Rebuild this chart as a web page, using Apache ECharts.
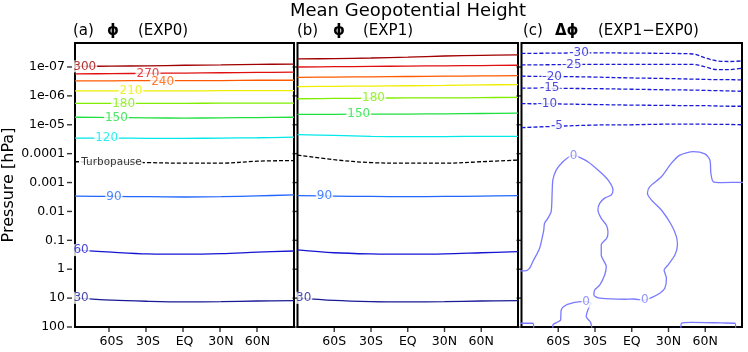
<!DOCTYPE html>
<html>
<head>
<meta charset="utf-8">
<title>Mean Geopotential Height</title>
<script src="https://cdn.jsdelivr.net/npm/echarts@6.0.0/dist/echarts.min.js"></script>
<style>
  html, body { margin: 0; padding: 0; background: #fff; }
  #chart { width: 748px; height: 352px; }
</style>
</head>
<body>
<div id="chart"></div>
<script>
// latitude ticks
var latTicks = [-60, -30, 0, 30, 60];
var latLabels = ['60S', '30S', 'EQ', '30N', '60N'];
// pressure ticks, as log10(hPa)
var presTicks = [-7, -6, -5, -4, -3, -2, -1, 0, 1, 2];
var presLabels = ['1e-07', '1e-06', '1e-05', '0.0001', '0.001', '0.01', '0.1', '1', '10', '100'];

// phi contour levels (top to bottom), turbopause sits between 120 and 90
var phiLevels = ['300', '270', '240', '210', '180', '150', '120', 'Turbopause', '90', '60', '30'];
var phiColors = ['#a00000', '#e01010', '#ff5a00', '#eeee00', '#80ee00', '#20e040', '#00e8e8', '#000000', '#2266ff', '#1414d2', '#1a1a96'];
var phiLats = [-90, -60, -30, 0, 30, 60, 90];
// log10 pressure of each contour at phiLats, EXP0
var phiExp0 = [
    [-7.02, -7.03, -7.04, -7.06, -7.07, -7.09, -7.10],
    [-6.76, -6.77, -6.78, -6.79, -6.80, -6.81, -6.82],
    [-6.52, -6.52, -6.53, -6.53, -6.53, -6.54, -6.54],
    [-6.17, -6.17, -6.17, -6.17, -6.18, -6.18, -6.18],
    [-5.74, -5.74, -5.74, -5.74, -5.75, -5.75, -5.75],
    [-5.26, -5.25, -5.24, -5.23, -5.24, -5.25, -5.26],
    [-4.54, -4.54, -4.53, -4.53, -4.54, -4.55, -4.57],
    [-3.72, -3.71, -3.69, -3.67, -3.67, -3.74, -3.76],
    [-2.53, -2.52, -2.51, -2.50, -2.51, -2.54, -2.57],
    [-0.67, -0.59, -0.53, -0.52, -0.54, -0.59, -0.63],
    [0.99, 1.07, 1.11, 1.13, 1.12, 1.10, 1.09]
];
// EXP1
var phiExp1 = [
    [-7.28, -7.29, -7.31, -7.34, -7.38, -7.40, -7.42],
    [-7.00, -7.01, -7.02, -7.03, -7.04, -7.05, -7.06],
    [-6.64, -6.65, -6.66, -6.67, -6.68, -6.69, -6.70],
    [-6.32, -6.33, -6.34, -6.35, -6.36, -6.38, -6.39],
    [-5.90, -5.91, -5.92, -5.93, -5.93, -5.94, -5.95],
    [-5.36, -5.36, -5.37, -5.37, -5.38, -5.39, -5.40],
    [-4.66, -4.63, -4.60, -4.59, -4.59, -4.60, -4.60],
    [-3.95, -3.79, -3.69, -3.67, -3.67, -3.72, -3.78],
    [-2.545, -2.53, -2.52, -2.51, -2.52, -2.53, -2.545],
    [-0.67, -0.57, -0.53, -0.52, -0.53, -0.57, -0.61],
    [0.99, 1.08, 1.12, 1.13, 1.12, 1.10, 1.09]
];

// difference EXP1-EXP0, negative contours (dashed)
var diffLevels = ['-30', '-25', '-20', '-15', '-10', '-5'];
var diffLats = [-90, -60, -30, 0, 30, 50, 60, 70, 80, 90];
var diffNeg = [
    [-7.47, -7.48, -7.49, -7.48, -7.47, -7.45, -7.31, -7.21, -7.19, -7.21],
    [-7.07, -7.08, -7.09, -7.09, -7.09, -7.09, -7.00, -6.91, -6.91, -6.96],
    [-6.68, -6.67, -6.65, -6.62, -6.60, -6.58, -6.57, -6.56, -6.56, -6.55],
    [-6.27, -6.26, -6.25, -6.23, -6.21, -6.20, -6.19, -6.18, -6.17, -6.16],
    [-5.73, -5.72, -5.70, -5.68, -5.67, -5.66, -5.66, -5.65, -5.64, -5.64],
    [-4.90, -4.95, -4.99, -5.00, -5.02, -5.02, -5.02, -5.01, -5.01, -5.00]
];
// zero contour pieces [lat, log10p]
var zeroMain = [
    [-91, 0.06], [-87.1, 0.06], [-83.5, -0.03], [-80.8, -0.26], [-75.3, -0.72], [-72.6, -1.19],
    [-71.8, -1.36], [-71.2, -1.59], [-68.5, -1.76], [-65.8, -1.99], [-65.0, -2.63], [-64.4, -3.09],
    [-61.7, -3.43], [-56.2, -3.72], [-50.7, -3.90], [-47.5, -3.94], [-43.9, -3.90], [-35.8, -3.72],
    [-26.2, -3.38], [-19.4, -3.09], [-15.3, -2.74], [-16.7, -2.57], [-22.1, -2.46], [-26.2, -2.28],
    [-27.6, -2.05], [-24.9, -1.76], [-20.8, -1.53], [-19.4, -1.30], [-20.3, -1.08], [-24.9, -0.84],
    [-24.9, -0.49], [-20.8, -0.09], [-22.1, 0.20], [-26.2, 0.55], [-30.3, 0.72], [-30.9, 0.89],
    [-27.6, 0.99], [-16.7, 1.03], [-5.7, 1.04], [1.1, 1.03], [10.6, 1.07], [14.7, 1.01],
    [22.9, 0.83], [27.0, 0.66], [28.3, 0.31], [26.4, 0.03], [29.7, -0.15], [35.2, -0.49],
    [37.3, -0.84], [36.5, -1.12], [32.4, -1.53], [24.2, -2.05], [16.0, -2.40], [12.8, -2.63],
    [14.7, -2.86], [24.2, -3.20], [32.4, -3.67], [39.3, -3.95], [50.2, -4.07], [59.7, -3.99],
    [63.8, -3.78], [64.6, -3.32], [66.5, -3.03], [73.3, -3.00], [92, -3.01]
];
var zeroSouth = [
    [-64.4, 2.05], [-64.4, 1.93], [-58.1, 1.76], [-57.6, 1.41], [-53.5, 1.24], [-46.4, 1.15],
    [-41.2, 1.12], [-37.2, 1.12], [-33.6, 1.18], [-35.8, 1.41], [-37.2, 1.64], [-33.6, 1.84], [-32.5, 2.05]
];
var zeroCorner = [[-92, 1.87], [-80.8, 1.87], [-80.0, 2.05]];
var zeroNorth = [[40.1, 2.05], [40.6, 1.87], [48.8, 1.84], [73.3, 1.86], [84.3, 1.87], [84.8, 2.05]];

// contour labels [text, lat, log10p]
var labelsA = [
    ['300', -82, -7.02], ['270', -30, -6.77], ['240', -18, -6.50], ['210', -44, -6.17],
    ['180', -50, -5.74], ['150', -56, -5.25], ['120', -64, -4.54], ['Turbopause', -60, -3.71],
    ['90', -58, -2.52], ['60', -85, -0.66], ['30', -85, 0.99]
];
var labelsB = [['180', -28, -5.92], ['150', -40, -5.36], ['90', -68, -2.53], ['30', -85, 0.99]];
var labelsC = [
    ['-30', -43, -7.48], ['-25', -49, -7.09], ['-20', -65, -6.67], ['-15', -67, -6.26],
    ['-10', -69, -5.72], ['-5', -61, -4.95], ['0', -47.5, -3.94], ['0', 10.6, 1.07], ['0', -37.2, 1.12]
];

var diffColor = '#1a1ad6';
var zeroColor = '#7a7aff';
var fontName = 'DejaVu Sans';

function pairUp(lats, vals) {
    return lats.map(function(la, k) { return [la, vals[k]]; });
}

function contour(gi, pts, color, dashed) {
    return {
        type: 'line',
        xAxisIndex: gi,
        yAxisIndex: gi,
        data: pts,
        symbol: 'none',
        smooth: 0.35,
        silent: true,
        z: 2,
        lineStyle: { color: color, width: 1.3, type: dashed ? [4, 2] : 'solid' }
    };
}

function labelSeries(gi, list, colorOf) {
    return {
        type: 'scatter',
        xAxisIndex: gi,
        yAxisIndex: gi,
        symbolSize: 1,
        silent: true,
        z: 5,
        itemStyle: { color: 'rgba(0,0,0,0)' },
        label: {
            show: true,
            position: 'inside',
            formatter: '{b}',
            backgroundColor: '#fff',
            padding: [0, 1],
            fontFamily: fontName,
            fontSize: 12
        },
        data: list.map(function(l) {
            var item = { name: l[0], value: [l[1], l[2]], label: { color: colorOf(l[0]) } };
            if (l[0] === 'Turbopause') item.label.fontSize = 10.5;
            return item;
        })
    };
}

// tick marks live in thin strip grids next to each panel
function tickSeries(gi, pts, size) {
    return {
        type: 'scatter',
        xAxisIndex: gi,
        yAxisIndex: gi,
        symbol: 'rect',
        symbolSize: size,
        clip: false,
        silent: true,
        z: 10,
        itemStyle: { color: '#000' },
        data: pts
    };
}

var series = [];
for (var i = 0; i < phiLevels.length; i++) {
    var dash = phiLevels[i] === 'Turbopause';
    series.push(contour(0, pairUp(phiLats, phiExp0[i]), phiColors[i], dash));
    series.push(contour(1, pairUp(phiLats, phiExp1[i]), phiColors[i], dash));
}
for (var j = 0; j < diffLevels.length; j++) {
    series.push(contour(2, pairUp(diffLats, diffNeg[j]), diffColor, true));
}
[zeroMain, zeroSouth, zeroCorner, zeroNorth].forEach(function(p) {
    var s = contour(2, p, zeroColor, false);
    s.smooth = 0.25;
    series.push(s);
});
var phiColorOf = function(t) { return phiColors[phiLevels.indexOf(t)]; };
series.push(labelSeries(0, labelsA, phiColorOf));
series.push(labelSeries(1, labelsB, phiColorOf));
series.push(labelSeries(2, labelsC, function(t) { return t === '0' ? zeroColor : diffColor; }));

var gridLefts = [72, 297.5, 521.5];
var gridWidths = [222, 220.5, 220.5];
var plotTop = 43, plotHeight = 284, tickLen = 5;

var grids = [], xAxes = [], yAxes = [];
var hiddenAxis = { show: false, axisLine: { show: false }, axisTick: { show: false }, axisLabel: { show: false }, splitLine: { show: false } };

// main panels: indices 0..2
for (var g = 0; g < 3; g++) {
    grids.push({
        left: gridLefts[g], top: plotTop, width: gridWidths[g], height: plotHeight,
        show: true, borderColor: '#000', borderWidth: 2, backgroundColor: 'transparent'
    });
    xAxes.push({
        gridIndex: g, type: 'value', min: -90, max: 90,
        axisLine: { show: false, onZero: false },
        splitLine: { show: false },
        axisTick: { show: false },
        axisLabel: {
            customValues: latTicks,
            color: '#000', fontFamily: fontName, fontSize: 12.5, margin: 8,
            formatter: function(v) { return latLabels[latTicks.indexOf(Math.round(v))]; }
        }
    });
    yAxes.push({
        gridIndex: g, type: 'value', min: -7.83, max: 2, inverse: true,
        axisLine: { show: false, onZero: false },
        splitLine: { show: false },
        axisTick: { show: false },
        axisLabel: {
            show: g === 0,
            customValues: presTicks,
            color: '#000', fontFamily: fontName, fontSize: 12.5, margin: 10,
            formatter: function(v) { return presLabels[presTicks.indexOf(Math.round(v))]; }
        },
        name: g === 0 ? 'Pressure [hPa]' : '',
        nameLocation: 'middle',
        nameGap: 58,
        nameRotate: 90,
        nameTextStyle: { color: '#000', fontFamily: fontName, fontSize: 16 }
    });
}
// bottom tick strips: indices 3..5
for (var b = 0; b < 3; b++) {
    var bi = grids.length;
    grids.push({ left: gridLefts[b], top: plotTop + plotHeight, width: gridWidths[b], height: tickLen });
    xAxes.push(Object.assign({ gridIndex: bi, type: 'value', min: -90, max: 90 }, hiddenAxis));
    yAxes.push(Object.assign({ gridIndex: bi, type: 'value', min: 0, max: 1 }, hiddenAxis));
    series.push(tickSeries(bi, latTicks.map(function(v) { return [v, 0.5]; }), [1.4, tickLen]));
}
// left tick strips: indices 6..8
for (var l = 0; l < 3; l++) {
    var li = grids.length;
    grids.push({ left: gridLefts[l] - tickLen, top: plotTop, width: tickLen, height: plotHeight });
    xAxes.push(Object.assign({ gridIndex: li, type: 'value', min: 0, max: 1 }, hiddenAxis));
    yAxes.push(Object.assign({ gridIndex: li, type: 'value', min: -7.83, max: 2, inverse: true }, hiddenAxis));
    series.push(tickSeries(li, presTicks.map(function(v) { return [0.5, v]; }), [tickLen, 1.4]));
}

// title pieces: [text, x, bold]
var headPieces = [
    ['(a)', 73, false], ['\u03d5', 107, true], ['(EXP0)', 138, false],
    ['(b)', 297, false], ['\u03d5', 333, true], ['(EXP1)', 363, false],
    ['(c)', 523, false], ['\u0394\u03d5', 555, true], ['(EXP1\u2212EXP0)', 598, false]
];
var graphics = [{
    type: 'text', x: 408, y: 11,
    style: { text: 'Mean Geopotential Height', font: '18px "DejaVu Sans"', fill: '#000', align: 'center', verticalAlign: 'middle' }
}];
headPieces.forEach(function(p) {
    graphics.push({
        type: 'text', x: p[1], y: 31,
        style: {
            text: p[0],
            font: (p[2] ? 'bold ' : '') + '15px "DejaVu Sans"',
            fill: '#000', align: 'left', verticalAlign: 'middle'
        }
    });
});

var myChart = echarts.init(document.getElementById('chart'));
myChart.setOption({
    animation: false,
    backgroundColor: '#fff',
    grid: grids,
    xAxis: xAxes,
    yAxis: yAxes,
    graphic: graphics,
    series: series
});
</script>
</body>
</html>
